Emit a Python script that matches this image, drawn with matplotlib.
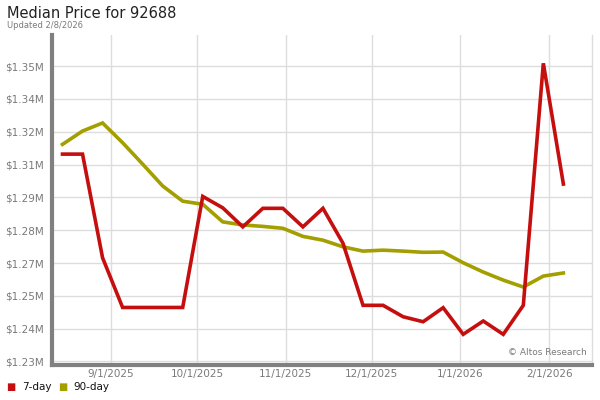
import matplotlib
matplotlib.use("Agg")
import matplotlib.pyplot as plt
import matplotlib.dates as mdates
from matplotlib.ticker import FuncFormatter
import numpy as np
import pandas as pd

# weekly data points (Fridays)
dates = pd.date_range("2025-08-15", "2026-02-06", freq="7D")

day7 = [1312500, 1312500, 1268900, 1248000, 1248000, 1248000, 1248000,
        1294700, 1289900, 1281900, 1289700, 1289700, 1281900, 1289700,
        1275000, 1248900, 1248900, 1244100, 1242000, 1247900, 1236700,
        1242300, 1236700, 1248900, 1350700, 1299900]

day90 = [1316600, 1322200, 1325600, 1317300, 1308300, 1299100, 1292700,
         1291400, 1284000, 1282700, 1282100, 1281300, 1277900, 1276300,
         1273500, 1271700, 1272100, 1271700, 1271200, 1271300, 1266800,
         1262900, 1259500, 1256600, 1261200, 1262500]

ytick_vals = np.linspace(1225300, 1349500, 10)
xtick_dates = pd.to_datetime(["2025-09-01", "2025-10-01", "2025-11-01",
                              "2025-12-01", "2026-01-01", "2026-02-01"])

red = "#c50f0f"
olive = "#a49f00"
gray = "#7a7a7a"

fig = plt.figure(figsize=(6, 4), dpi=100)
ax = fig.add_axes([52/600, 1-365/400, 540/600, 330/400])

ax.plot(dates, day90, color=olive, lw=2.6, solid_joinstyle="miter", zorder=3)
ax.plot(dates, day7, color=red, lw=2.6, solid_joinstyle="miter", zorder=4)

ax.set_ylim(1223800, 1362600)
ax.set_xlim(pd.Timestamp("2025-08-11 08:00"), pd.Timestamp("2026-02-16"))

ax.set_yticks(ytick_vals)
ax.yaxis.set_major_formatter(FuncFormatter(lambda v, p: "$%.2fM" % (v / 1e6)))
ax.set_xticks(xtick_dates)
ax.xaxis.set_major_formatter(mdates.DateFormatter("%-m/%-d/%Y"))

ax.grid(True, color="#dddddd", lw=1)
ax.set_axisbelow(True)
ax.tick_params(axis="y", length=0, labelsize=7.5, labelcolor=gray, pad=6)
ax.tick_params(axis="x", length=0, labelsize=7.5, labelcolor=gray, pad=3)

ax.spines["top"].set_visible(False)
ax.spines["right"].set_color("#dddddd")
ax.spines["right"].set_linewidth(1)
ax.spines["left"].set_color("#808080")
ax.spines["left"].set_linewidth(3)
ax.spines["bottom"].set_color("#808080")
ax.spines["bottom"].set_linewidth(3)

ax.text(0.99, 0.025, "\u00a9 Altos Research", transform=ax.transAxes,
        ha="right", va="bottom", fontsize=6.5, color=gray)

fig.text(7/600, 1-13/400, "Median Price for 92688", fontsize=10.5,
         color="#222222", va="center", ha="left")
fig.text(7/600, 1-25/400, "Updated 2/8/2026", fontsize=6, color=gray,
         va="center", ha="left")

# legend
fig.text(6/600, 1-387/400, "\u25a0", color=red, fontsize=7, va="center")
fig.text(22/600, 1-387/400, "7-day", color="#111111", fontsize=7.5, va="center")
fig.text(58/600, 1-387/400, "\u25a0", color=olive, fontsize=7, va="center")
fig.text(73/600, 1-387/400, "90-day", color="#111111", fontsize=7.5, va="center")

fig.savefig("out.png", dpi=100)
